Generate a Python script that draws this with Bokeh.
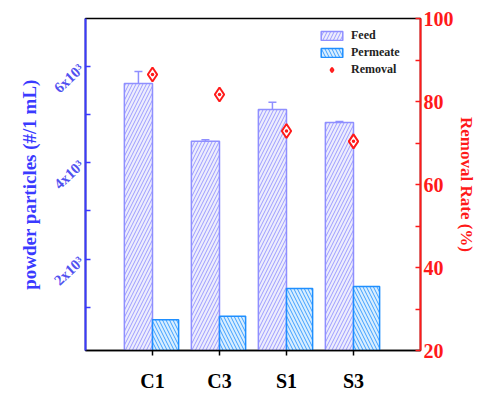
from bokeh.plotting import figure
from bokeh.models import (Range1d, LinearAxis, FixedTicker, ColumnDataSource,
                          Whisker, Legend, LegendItem, FactorRange)
from bokeh.transform import dodge
from bokeh.embed import file_html
from bokeh.resources import INLINE

categories = ["C1", "C3", "S1", "S3"]
feed = [5650, 4450, 5110, 4840]
feed_err = [250, 30, 150, 20]
permeate = [740, 810, 1390, 1430]
removal = [86.5, 81.7, 72.9, 70.4]

left_ticks = [2000, 4000, 6000]
left_minor = [1000, 3000, 5000]
left_labels = ["2x10³", "4x10³", "6x10³"]
right_ticks = [20, 40, 60, 80, 100]
right_minor = [30, 50, 70, 90]

SERIF = "Liberation Serif"
BLUE = "#3a3aff"
RED = "#ff1a1a"

src = ColumnDataSource(dict(
    cat=categories, feed=feed, permeate=permeate, removal=removal,
    upper=[f + e for f, e in zip(feed, feed_err)], lower=feed,
))

p = figure(width=484, height=394, output_backend="svg", toolbar_location=None,
           x_range=FactorRange(factors=categories, range_padding=0.25),
           y_range=Range1d(100, 7000),
           min_border_left=85, min_border_right=64, min_border_top=18, min_border_bottom=42)
p.extra_y_ranges = {"rate": Range1d(20, 100)}
p.grid.visible = False
p.outline_line_color = "black"
p.outline_line_width = 1.5
p.background_fill_color = "white"
p.border_fill_color = "white"

feed_r = p.vbar(x=dodge("cat", -0.21, range=p.x_range), top="feed", bottom=100, width=0.42,
                source=src, fill_color="#ededfd", line_color="#8f8fff", line_width=1.5,
                hatch_pattern="/", hatch_color="#9c9cff", hatch_scale=7, hatch_weight=1)
perm_r = p.vbar(x=dodge("cat", 0.195, range=p.x_range), top="permeate", bottom=100, width=0.39,
                source=src, fill_color="#d8eeff", line_color="#1f8fff", line_width=1.5,
                hatch_pattern="\\", hatch_color="#3f9fff", hatch_scale=7, hatch_weight=1)

wh = Whisker(base=dodge("cat", -0.21, range=p.x_range), upper="upper", lower="lower",
             source=src, line_color="#8f8fff", line_width=1.5, dimension="height")
wh.upper_head.size = 8
wh.upper_head.line_color = "#8f8fff"
wh.upper_head.line_width = 1.5
wh.lower_head.size = 0
wh.lower_head.line_alpha = 0
p.add_layout(wh)

rem_r = p.scatter(x="cat", y="removal", y_range_name="rate", source=src, marker="diamond_dot",
                  size=14, fill_color="white", line_color=RED, line_width=2)

# bottom axis
xa = p.xaxis[0]
xa.axis_line_color = "black"
xa.axis_line_width = 1.5
xa.major_tick_in = 0
xa.major_tick_out = 5
xa.major_tick_line_color = "black"
xa.major_tick_line_width = 1.5
xa.major_label_text_font = SERIF
xa.major_label_text_font_style = "bold"
xa.major_label_text_font_size = "20px"
xa.major_label_text_color = "black"
xa.major_label_standoff = 14

# left axis
ya = p.yaxis[0]
ya.ticker = FixedTicker(ticks=left_ticks, minor_ticks=left_minor)
ya.major_label_overrides = {t: l for t, l in zip(left_ticks, left_labels)}
ya.axis_line_color = BLUE
ya.axis_line_width = 2
ya.major_tick_in = 5
ya.major_tick_out = 0
ya.minor_tick_in = 5
ya.minor_tick_out = 0
ya.major_tick_line_color = BLUE
ya.minor_tick_line_color = BLUE
ya.major_tick_line_width = 1.5
ya.minor_tick_line_width = 1.5
ya.major_label_orientation = 0.75
ya.major_label_text_font = SERIF
ya.major_label_text_font_style = "bold"
ya.major_label_text_font_size = "15px"
ya.major_label_text_color = "#5252f0"
ya.major_label_standoff = 4
ya.axis_label = "powder particles (#/1 mL)"
ya.axis_label_text_font = SERIF
ya.axis_label_text_font_style = "bold"
ya.axis_label_text_font_size = "19px"
ya.axis_label_text_color = BLUE
ya.axis_label_standoff = 2

# right axis
ra = LinearAxis(y_range_name="rate", ticker=FixedTicker(ticks=right_ticks, minor_ticks=right_minor))
ra.axis_line_color = RED
ra.axis_line_width = 2
ra.major_tick_in = 5
ra.major_tick_out = 0
ra.minor_tick_in = 5
ra.minor_tick_out = 0
ra.major_tick_line_color = RED
ra.minor_tick_line_color = RED
ra.major_tick_line_width = 1.5
ra.minor_tick_line_width = 1.5
ra.major_label_text_font = SERIF
ra.major_label_text_font_style = "bold"
ra.major_label_text_font_size = "20px"
ra.major_label_text_color = RED
ra.major_label_standoff = 3
ra.axis_label = "Removal Rate (%)"
ra.axis_label_text_font = SERIF
ra.axis_label_text_font_style = "bold"
ra.axis_label_text_font_size = "17px"
ra.axis_label_text_color = RED
ra.axis_label_standoff = 0
p.add_layout(ra, "right")

legend = Legend(items=[LegendItem(label="Feed", renderers=[feed_r]),
                       LegendItem(label="Permeate", renderers=[perm_r]),
                       LegendItem(label="Removal", renderers=[rem_r])],
                location=(233, 273), orientation="vertical")
legend.border_line_alpha = 0
legend.background_fill_alpha = 0
legend.padding = 0
legend.margin = 0
legend.spacing = 2
legend.glyph_width = 27
legend.glyph_height = 11
legend.label_height = 12
legend.label_standoff = 6
legend.label_text_font = SERIF
legend.label_text_font_style = "bold"
legend.label_text_font_size = "12px"
legend.label_text_color = "#222222"
p.add_layout(legend, "center")

open("out.html", "w").write(file_html(p, INLINE))
